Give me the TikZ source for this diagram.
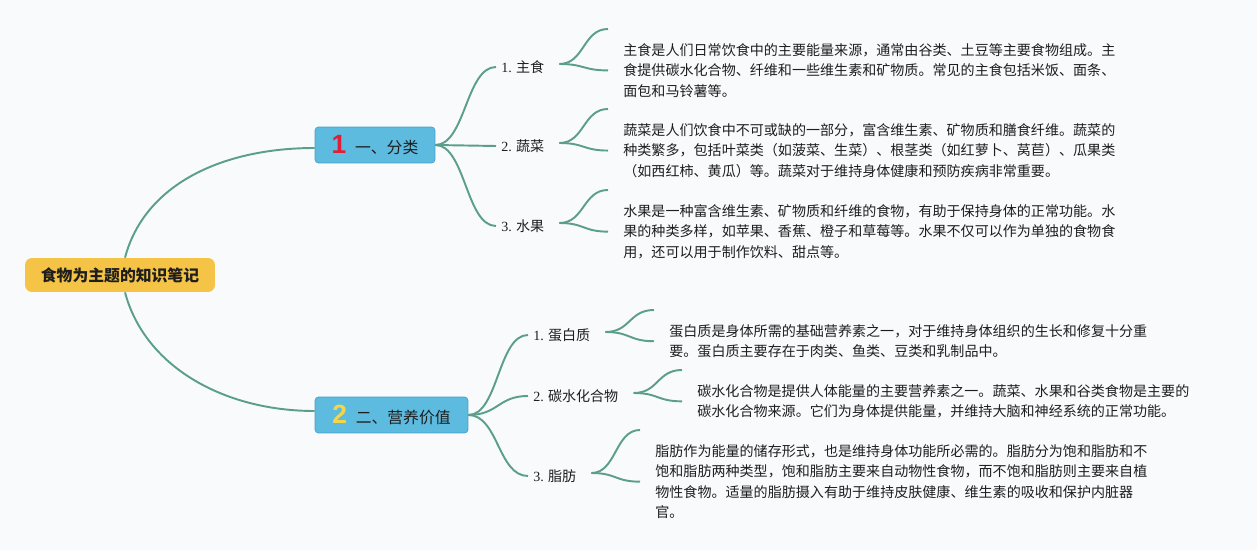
\documentclass[tikz,border=0pt]{standalone}
\usepackage{fontspec}
\setmainfont{Noto Sans CJK SC}
\newfontfamily\numfont{Liberation Serif}
\newfontfamily\badgefont{Liberation Sans}
\usepackage{tikz}
\usetikzlibrary{
  calc,
  positioning
}
\usepackage{xcolor}
\definecolor{paper}{RGB}{249,250,252}
\definecolor{linkc}{RGB}{92,158,140}
\definecolor{rootc}{RGB}{245,195,70}
\definecolor{branchc}{RGB}{92,187,222}
\definecolor{branchb}{RGB}{70,160,200}
\definecolor{inkc}{RGB}{30,30,30}
\definecolor{badgeone}{RGB}{224,30,55}
\definecolor{badgetwo}{RGB}{246,214,72}
\newcommand{\badge}[2]{{\badgefont\bfseries\fontsize{15}{15}\selectfont\color{#1}#2}\hspace{5pt}}

\begin{document}
\begin{tikzpicture}[
  x=0.02cm, y=-0.02cm,
  root/.style={fill=rootc, rounded corners=4pt, minimum width=3.8cm, minimum height=0.68cm, inner sep=0pt, text=inkc, font=\fontsize{9}{11}\selectfont\bfseries},
  branch/.style={fill=branchc, draw=branchb, line width=0.4pt, rounded corners=2pt, minimum height=0.72cm, inner sep=0pt, text=inkc, font=\fontsize{9}{11}\selectfont},
  topic/.style={anchor=west, inner xsep=2.8pt, inner ysep=0pt, text=inkc, font=\fontsize{8}{10}\selectfont},
  note/.style={anchor=north west, inner sep=0pt, align=left, text=inkc, font=\fontsize{8}{11.7}\selectfont},
  link/.style={draw=linkc, line width=1.1pt},
]
% Canvas
\fill[paper] (0,0) rectangle (1257,550);
\useasboundingbox (0,0) rectangle (1257,550);

% Root and main branches
\node[root] (root) at (120,275) {食物为主题的知识笔记};
\node[branch, minimum width=2.4cm] (b1) at (375,145) {\badge{badgeone}{1}一、分类};
\node[branch, minimum width=3.06cm] (b2) at (391.5,415) {\badge{badgetwo}{2}二、营养价值};

% Topics of branch 1
\node[topic] (s11) at (496,67) {{\numfont 1.} 主食};
\node[topic] (s12) at (496,146) {{\numfont 2.} 蔬菜};
\node[topic] (s13) at (496,226) {{\numfont 3.} 水果};

% Topics of branch 2
\node[topic] (s21) at (528,335) {{\numfont 1.} 蛋白质};
\node[topic] (s22) at (528,396) {{\numfont 2.} 碳水化合物};
\node[topic] (s23) at (528,476) {{\numfont 3.} 脂肪};

% Notes
\node[note] (n11) at (623,43) {主食是人们日常饮食中的主要能量来源，通常由谷类、土豆等主要食物组成。主\\食提供碳水化合物、纤维和一些维生素和矿物质。常见的主食包括米饭、面条、\\面包和马铃薯等。};
\node[note] (n12) at (623,123) {蔬菜是人们饮食中不可或缺的一部分，富含维生素、矿物质和膳食纤维。蔬菜的\\种类繁多，包括叶菜类（如菠菜、生菜）、根茎类（如红萝卜、莴苣）、瓜果类\\（如西红柿、黄瓜）等。蔬菜对于维持身体健康和预防疾病非常重要。};
\node[note] (n13) at (623,204) {水果是一种富含维生素、矿物质和纤维的食物，有助于保持身体的正常功能。水\\果的种类多样，如苹果、香蕉、橙子和草莓等。水果不仅可以作为单独的食物食\\用，还可以用于制作饮料、甜点等。};
\node[note] (n21) at (669,324) {蛋白质是身体所需的基础营养素之一，对于维持身体组织的生长和修复十分重\\要。蛋白质主要存在于肉类、鱼类、豆类和乳制品中。};
\node[note] (n22) at (697,384) {碳水化合物是提供人体能量的主要营养素之一。蔬菜、水果和谷类食物是主要的\\碳水化合物来源。它们为身体提供能量，并维持大脑和神经系统的正常功能。};
\node[note] (n23) at (655,444) {脂肪作为能量的储存形式，也是维持身体功能所必需的。脂肪分为饱和脂肪和不\\饱和脂肪两种类型，饱和脂肪主要来自动物性食物，而不饱和脂肪则主要来自植\\物性食物。适量的脂肪摄入有助于维持皮肤健康、维生素的吸收和保护内脏器\\官。};

% Root to branches
\draw[link] ($(root.north)+(5,0)$) .. controls +(20,-75) and +(-90,0) .. ($(b1.west)+(0,3)$);
\draw[link] ($(root.south)+(5,0)$) .. controls +(20,75) and +(-90,0) .. ($(b2.west)+(0,-4)$);

% Branches to topics
\draw[link] (b1.east) .. controls +(30,0) and +(-30,0) .. (s11.west);
\draw[link] (b1.east) .. controls +(30,0) and +(-30,0) .. (s12.west);
\draw[link] (b1.east) .. controls +(30,0) and +(-30,0) .. (s13.west);
\draw[link] (b2.east) .. controls +(30,0) and +(-30,0) .. (s21.west);
\draw[link] (b2.east) .. controls +(30,0) and +(-30,0) .. (s22.west);
\draw[link] (b2.east) .. controls +(30,0) and +(-30,0) .. (s23.west);

% Topics to notes
\draw[link] ($(s11.east)+(10,-3)$) .. controls +(25,0) and +(-25,0) .. ($(n11.north west)+(-15,-14)$);
\draw[link] ($(s11.east)+(10,-3)$) .. controls +(25,0) and +(-25,0) .. ($(n11.west)+(-15,0)$);
\draw[link] ($(s12.east)+(10,-3)$) .. controls +(25,0) and +(-25,0) .. ($(n12.north west)+(-15,-14)$);
\draw[link] ($(s12.east)+(10,-3)$) .. controls +(25,0) and +(-25,0) .. ($(n12.west)+(-15,0)$);
\draw[link] ($(s13.east)+(10,-3)$) .. controls +(25,0) and +(-25,0) .. ($(n13.north west)+(-15,-14)$);
\draw[link] ($(s13.east)+(10,-3)$) .. controls +(25,0) and +(-25,0) .. ($(n13.west)+(-15,0)$);
\draw[link] ($(s21.east)+(10,-3)$) .. controls +(25,0) and +(-25,0) .. ($(n21.north west)+(-15,-14)$);
\draw[link] ($(s21.east)+(10,-3)$) .. controls +(25,0) and +(-25,0) .. ($(n21.west)+(-15,0)$);
\draw[link] ($(s22.east)+(10,-3)$) .. controls +(25,0) and +(-25,0) .. ($(n22.north west)+(-15,-14)$);
\draw[link] ($(s22.east)+(10,-3)$) .. controls +(25,0) and +(-25,0) .. ($(n22.west)+(-15,0)$);
\draw[link] ($(s23.east)+(10,-3)$) .. controls +(25,0) and +(-25,0) .. ($(n23.north west)+(-15,-14)$);
\draw[link] ($(s23.east)+(10,-3)$) .. controls +(25,0) and +(-25,0) .. ($(n23.west)+(-15,0)$);
\end{tikzpicture}
\end{document}
